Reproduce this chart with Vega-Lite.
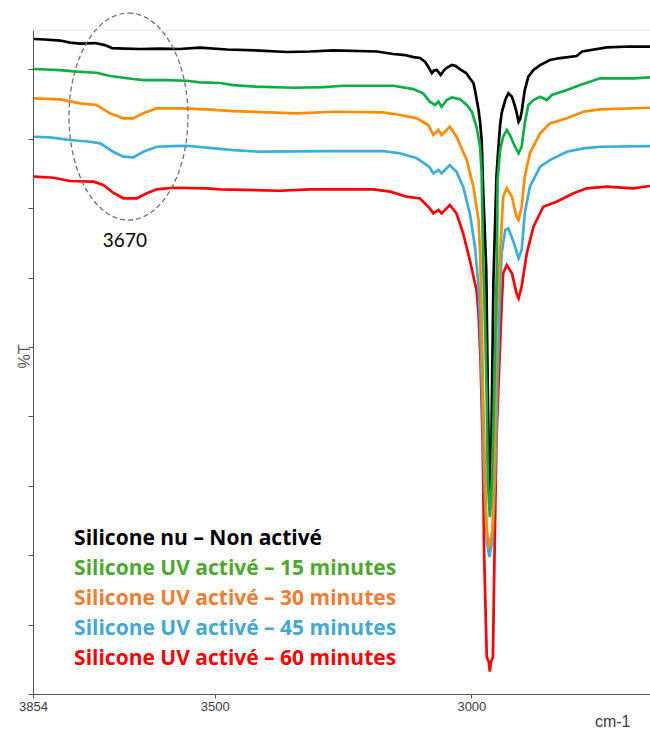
{
  "$schema": "https://vega.github.io/schema/vega-lite/v6.json",
  "width": 617,
  "height": 664,
  "autosize": {"type": "none"},
  "padding": {"left": 33, "top": 30, "right": 0, "bottom": 35},
  "background": "white",
  "config": {"view": {"stroke": null}},
  "datasets": {
    "spectra": [
      {"s":"60 min","wn":3852,"t":74.54},{"s":"60 min","wn":3814,"t":74.39},{"s":"60 min","wn":3782,"t":73.92},{"s":"60 min","wn":3736,"t":73.82},{"s":"60 min","wn":3717,"t":73.34},{"s":"60 min","wn":3698,"t":72.23},{"s":"60 min","wn":3678,"t":71.43},{"s":"60 min","wn":3652,"t":71.43},{"s":"60 min","wn":3632,"t":72.15},{"s":"60 min","wn":3613,"t":72.72},{"s":"60 min","wn":3581,"t":72.95},{"s":"60 min","wn":3516,"t":72.87},{"s":"60 min","wn":3490,"t":72.72},{"s":"60 min","wn":3373,"t":72.52},{"s":"60 min","wn":3314,"t":72.72},{"s":"60 min","wn":3191,"t":72.72},{"s":"60 min","wn":3158,"t":72.38},{"s":"60 min","wn":3126,"t":71.66},{"s":"60 min","wn":3100,"t":71.40},{"s":"60 min","wn":3081,"t":69.98},{"s":"60 min","wn":3074,"t":69.26},{"s":"60 min","wn":3064,"t":69.74},{"s":"60 min","wn":3058,"t":69.26},{"s":"60 min","wn":3042,"t":70.46},{"s":"60 min","wn":3029,"t":69.26},{"s":"60 min","wn":3016,"t":66.38},{"s":"60 min","wn":3003,"t":62.54},{"s":"60 min","wn":2993,"t":59.18},{"s":"60 min","wn":2990,"t":58.21},{"s":"60 min","wn":2986,"t":54.86},{"s":"60 min","wn":2982,"t":47.69},{"s":"60 min","wn":2978,"t":36.17},{"s":"60 min","wn":2975,"t":19.74},{"s":"60 min","wn":2970,"t":5.33},{"s":"60 min","wn":2966,"t":4.61},{"s":"60 min","wn":2964,"t":3.24},{"s":"60 min","wn":2962,"t":4.61},{"s":"60 min","wn":2958,"t":5.33},{"s":"60 min","wn":2955,"t":19.74},{"s":"60 min","wn":2951,"t":37.03},{"s":"60 min","wn":2945,"t":48.56},{"s":"60 min","wn":2941,"t":56.05},{"s":"60 min","wn":2938,"t":60.62},{"s":"60 min","wn":2931,"t":61.81},{"s":"60 min","wn":2921,"t":60.62},{"s":"60 min","wn":2912,"t":57.74},{"s":"60 min","wn":2908,"t":57.02},{"s":"60 min","wn":2902,"t":58.69},{"s":"60 min","wn":2892,"t":63.50},{"s":"60 min","wn":2879,"t":67.33},{"s":"60 min","wn":2860,"t":70.21},{"s":"60 min","wn":2834,"t":70.94},{"s":"60 min","wn":2801,"t":72.15},{"s":"60 min","wn":2775,"t":72.87},{"s":"60 min","wn":2736,"t":73.10},{"s":"60 min","wn":2685,"t":72.87},{"s":"60 min","wn":2652,"t":73.20},

      {"s":"45 min","wn":3852,"t":80.30},{"s":"45 min","wn":3821,"t":80.21},{"s":"45 min","wn":3782,"t":79.83},{"s":"45 min","wn":3743,"t":79.58},{"s":"45 min","wn":3723,"t":79.35},{"s":"45 min","wn":3698,"t":78.14},{"s":"45 min","wn":3678,"t":77.42},{"s":"45 min","wn":3659,"t":77.33},{"s":"45 min","wn":3639,"t":78.14},{"s":"45 min","wn":3613,"t":78.86},{"s":"45 min","wn":3581,"t":78.96},{"s":"45 min","wn":3555,"t":79.00},{"s":"45 min","wn":3516,"t":78.72},{"s":"45 min","wn":3464,"t":78.38},{"s":"45 min","wn":3412,"t":78.14},{"s":"45 min","wn":3282,"t":78.24},{"s":"45 min","wn":3172,"t":78.24},{"s":"45 min","wn":3139,"t":77.91},{"s":"45 min","wn":3106,"t":77.19},{"s":"45 min","wn":3082,"t":75.94},{"s":"45 min","wn":3074,"t":75.03},{"s":"45 min","wn":3064,"t":75.50},{"s":"45 min","wn":3058,"t":75.03},{"s":"45 min","wn":3042,"t":76.22},{"s":"45 min","wn":3029,"t":75.26},{"s":"45 min","wn":3016,"t":73.10},{"s":"45 min","wn":3003,"t":69.26},{"s":"45 min","wn":2993,"t":64.45},{"s":"45 min","wn":2986,"t":58.69},{"s":"45 min","wn":2983,"t":53.89},{"s":"45 min","wn":2979,"t":42.36},{"s":"45 min","wn":2975,"t":30.84},{"s":"45 min","wn":2970,"t":22.19},{"s":"45 min","wn":2965,"t":19.74},{"s":"45 min","wn":2959,"t":22.19},{"s":"45 min","wn":2954,"t":30.84},{"s":"45 min","wn":2950,"t":42.36},{"s":"45 min","wn":2946,"t":53.89},{"s":"45 min","wn":2941,"t":63.54},{"s":"45 min","wn":2934,"t":66.86},{"s":"45 min","wn":2928,"t":67.10},{"s":"45 min","wn":2918,"t":65.17},{"s":"45 min","wn":2908,"t":62.78},{"s":"45 min","wn":2902,"t":63.98},{"s":"45 min","wn":2896,"t":69.26},{"s":"45 min","wn":2886,"t":73.10},{"s":"45 min","wn":2866,"t":75.98},{"s":"45 min","wn":2847,"t":76.94},{"s":"45 min","wn":2814,"t":78.14},{"s":"45 min","wn":2782,"t":78.63},{"s":"45 min","wn":2749,"t":78.86},{"s":"45 min","wn":2652,"t":78.96},

      {"s":"30 min","wn":3852,"t":85.83},{"s":"30 min","wn":3801,"t":85.69},{"s":"30 min","wn":3762,"t":85.11},{"s":"30 min","wn":3730,"t":84.87},{"s":"30 min","wn":3704,"t":83.67},{"s":"30 min","wn":3678,"t":82.95},{"s":"30 min","wn":3659,"t":82.95},{"s":"30 min","wn":3639,"t":83.67},{"s":"30 min","wn":3613,"t":84.39},{"s":"30 min","wn":3568,"t":84.39},{"s":"30 min","wn":3516,"t":84.25},{"s":"30 min","wn":3464,"t":84.00},{"s":"30 min","wn":3340,"t":83.67},{"s":"30 min","wn":3269,"t":83.90},{"s":"30 min","wn":3172,"t":83.82},{"s":"30 min","wn":3139,"t":83.43},{"s":"30 min","wn":3106,"t":82.95},{"s":"30 min","wn":3084,"t":81.99},{"s":"30 min","wn":3074,"t":80.55},{"s":"30 min","wn":3064,"t":81.27},{"s":"30 min","wn":3058,"t":80.55},{"s":"30 min","wn":3042,"t":81.74},{"s":"30 min","wn":3029,"t":80.30},{"s":"30 min","wn":3009,"t":76.94},{"s":"30 min","wn":2996,"t":73.10},{"s":"30 min","wn":2986,"t":68.30},{"s":"30 min","wn":2983,"t":63.54},{"s":"30 min","wn":2980,"t":54.90},{"s":"30 min","wn":2977,"t":42.36},{"s":"30 min","wn":2973,"t":30.84},{"s":"30 min","wn":2970,"t":23.63},{"s":"30 min","wn":2965,"t":21.04},{"s":"30 min","wn":2959,"t":23.63},{"s":"30 min","wn":2956,"t":30.84},{"s":"30 min","wn":2953,"t":42.36},{"s":"30 min","wn":2951,"t":53.89},{"s":"30 min","wn":2944,"t":63.54},{"s":"30 min","wn":2938,"t":71.66},{"s":"30 min","wn":2931,"t":72.87},{"s":"30 min","wn":2921,"t":71.66},{"s":"30 min","wn":2912,"t":68.77},{"s":"30 min","wn":2908,"t":68.30},{"s":"30 min","wn":2902,"t":70.21},{"s":"30 min","wn":2896,"t":74.54},{"s":"30 min","wn":2886,"t":77.91},{"s":"30 min","wn":2866,"t":80.79},{"s":"30 min","wn":2847,"t":82.23},{"s":"30 min","wn":2814,"t":82.95},{"s":"30 min","wn":2782,"t":83.90},{"s":"30 min","wn":2749,"t":84.25},{"s":"30 min","wn":2652,"t":84.48},

      {"s":"0 min","wn":3852,"t":94.38},{"s":"0 min","wn":3831,"t":94.31},{"s":"0 min","wn":3801,"t":94.16},{"s":"0 min","wn":3782,"t":93.87},{"s":"0 min","wn":3762,"t":93.73},{"s":"0 min","wn":3733,"t":93.80},{"s":"0 min","wn":3714,"t":93.51},{"s":"0 min","wn":3700,"t":93.08},{"s":"0 min","wn":3675,"t":93.01},{"s":"0 min","wn":3645,"t":92.94},{"s":"0 min","wn":3607,"t":93.01},{"s":"0 min","wn":3568,"t":92.94},{"s":"0 min","wn":3529,"t":93.15},{"s":"0 min","wn":3476,"t":92.87},{"s":"0 min","wn":3412,"t":92.72},{"s":"0 min","wn":3359,"t":92.51},{"s":"0 min","wn":3314,"t":92.58},{"s":"0 min","wn":3269,"t":92.75},{"s":"0 min","wn":3184,"t":92.58},{"s":"0 min","wn":3152,"t":92.22},{"s":"0 min","wn":3129,"t":92.07},{"s":"0 min","wn":3113,"t":91.78},{"s":"0 min","wn":3100,"t":91.64},{"s":"0 min","wn":3090,"t":91.07},{"s":"0 min","wn":3084,"t":90.39},{"s":"0 min","wn":3077,"t":89.48},{"s":"0 min","wn":3073,"t":89.84},{"s":"0 min","wn":3067,"t":89.91},{"s":"0 min","wn":3060,"t":89.19},{"s":"0 min","wn":3053,"t":89.91},{"s":"0 min","wn":3048,"t":90.24},{"s":"0 min","wn":3038,"t":90.63},{"s":"0 min","wn":3030,"t":90.48},{"s":"0 min","wn":3022,"t":90.01},{"s":"0 min","wn":3010,"t":89.48},{"s":"0 min","wn":3003,"t":88.72},{"s":"0 min","wn":2996,"t":88.04},{"s":"0 min","wn":2993,"t":87.03},{"s":"0 min","wn":2986,"t":84.15},{"s":"0 min","wn":2983,"t":82.42},{"s":"0 min","wn":2980,"t":79.83},{"s":"0 min","wn":2977,"t":72.62},{"s":"0 min","wn":2971,"t":61.09},{"s":"0 min","wn":2968,"t":43.80},{"s":"0 min","wn":2965,"t":29.39},{"s":"0 min","wn":2964,"t":26.51},{"s":"0 min","wn":2962,"t":29.39},{"s":"0 min","wn":2960,"t":42.36},{"s":"0 min","wn":2957,"t":59.65},{"s":"0 min","wn":2951,"t":74.78},{"s":"0 min","wn":2947,"t":79.10},{"s":"0 min","wn":2944,"t":81.99},{"s":"0 min","wn":2941,"t":83.72},{"s":"0 min","wn":2934,"t":85.59},{"s":"0 min","wn":2928,"t":86.56},{"s":"0 min","wn":2921,"t":86.07},{"s":"0 min","wn":2917,"t":85.16},{"s":"0 min","wn":2913,"t":84.15},{"s":"0 min","wn":2908,"t":82.46},{"s":"0 min","wn":2905,"t":82.85},{"s":"0 min","wn":2902,"t":83.90},{"s":"0 min","wn":2896,"t":87.03},{"s":"0 min","wn":2889,"t":88.95},{"s":"0 min","wn":2879,"t":89.91},{"s":"0 min","wn":2866,"t":90.63},{"s":"0 min","wn":2847,"t":91.35},{"s":"0 min","wn":2827,"t":91.64},{"s":"0 min","wn":2795,"t":91.93},{"s":"0 min","wn":2784,"t":92.58},{"s":"0 min","wn":2736,"t":93.18},{"s":"0 min","wn":2691,"t":93.30},{"s":"0 min","wn":2652,"t":93.27},

      {"s":"15 min","wn":3852,"t":90.06},{"s":"15 min","wn":3801,"t":89.91},{"s":"15 min","wn":3769,"t":89.67},{"s":"15 min","wn":3730,"t":89.52},{"s":"15 min","wn":3704,"t":89.05},{"s":"15 min","wn":3659,"t":88.62},{"s":"15 min","wn":3639,"t":88.47},{"s":"15 min","wn":3594,"t":88.47},{"s":"15 min","wn":3555,"t":88.37},{"s":"15 min","wn":3529,"t":88.14},{"s":"15 min","wn":3490,"t":88.04},{"s":"15 min","wn":3464,"t":87.75},{"s":"15 min","wn":3421,"t":87.51},{"s":"15 min","wn":3347,"t":87.36},{"s":"15 min","wn":3288,"t":87.46},{"s":"15 min","wn":3249,"t":87.65},{"s":"15 min","wn":3152,"t":87.65},{"s":"15 min","wn":3113,"t":87.17},{"s":"15 min","wn":3094,"t":86.56},{"s":"15 min","wn":3081,"t":85.35},{"s":"15 min","wn":3071,"t":84.87},{"s":"15 min","wn":3064,"t":85.35},{"s":"15 min","wn":3058,"t":84.62},{"s":"15 min","wn":3048,"t":85.59},{"s":"15 min","wn":3038,"t":85.98},{"s":"15 min","wn":3022,"t":85.69},{"s":"15 min","wn":3009,"t":84.87},{"s":"15 min","wn":2999,"t":83.90},{"s":"15 min","wn":2990,"t":81.74},{"s":"15 min","wn":2983,"t":78.86},{"s":"15 min","wn":2980,"t":75.07},{"s":"15 min","wn":2977,"t":62.54},{"s":"15 min","wn":2973,"t":52.45},{"s":"15 min","wn":2970,"t":42.36},{"s":"15 min","wn":2968,"t":30.84},{"s":"15 min","wn":2964,"t":25.50},{"s":"15 min","wn":2960,"t":30.84},{"s":"15 min","wn":2956,"t":42.36},{"s":"15 min","wn":2953,"t":52.45},{"s":"15 min","wn":2950,"t":62.54},{"s":"15 min","wn":2949,"t":74.06},{"s":"15 min","wn":2944,"t":78.38},{"s":"15 min","wn":2938,"t":80.30},{"s":"15 min","wn":2931,"t":81.27},{"s":"15 min","wn":2925,"t":80.55},{"s":"15 min","wn":2915,"t":78.86},{"s":"15 min","wn":2908,"t":77.91},{"s":"15 min","wn":2902,"t":78.86},{"s":"15 min","wn":2896,"t":82.23},{"s":"15 min","wn":2889,"t":84.87},{"s":"15 min","wn":2879,"t":85.59},{"s":"15 min","wn":2866,"t":86.07},{"s":"15 min","wn":2853,"t":85.59},{"s":"15 min","wn":2843,"t":86.31},{"s":"15 min","wn":2814,"t":87.03},{"s":"15 min","wn":2788,"t":87.75},{"s":"15 min","wn":2749,"t":88.72},{"s":"15 min","wn":2685,"t":88.72},{"s":"15 min","wn":2652,"t":88.86}
    ],
    "legend": [
      {"label":"Silicone nu – Non activé","grp":"0 min","wn":3774,"t":21.47},
      {"label":"Silicone UV activé – 15 minutes","grp":"15 min","wn":3774,"t":17.15},
      {"label":"Silicone UV activé – 30 minutes","grp":"30 min","wn":3774,"t":12.82},
      {"label":"Silicone UV activé – 45 minutes","grp":"45 min","wn":3774,"t":8.50},
      {"label":"Silicone UV activé – 60 minutes","grp":"60 min","wn":3774,"t":4.18}
    ],
    "ellipse": [{"wn":3668,"t":83.21}],
    "notes": [{"wn":3675,"t":64.41,"label":"3670"}]
  },
  "layer": [
    {
      "data": {"values": [{}]},
      "mark": {"type": "rule", "color": "#e6e6e6", "strokeWidth": 1},
      "encoding": {"y": {"datum": 95.68, "type": "quantitative"}}
    },
    {
      "data": {"name": "spectra"},
      "mark": {"type": "line", "strokeWidth": 2.7},
      "encoding": {
        "x": {
          "field": "wn", "type": "quantitative",
          "scale": {"domain": [2652, 3854], "reverse": true, "nice": false, "zero": false},
          "axis": {
            "values": [3854, 3500, 3000], "format": "d", "title": "cm-1", "grid": false,
            "domainColor": "#555555", "domainWidth": 1, "tickColor": "#555555", "tickSize": 4,
            "labelFont": "Liberation Sans", "labelFontSize": 13, "labelColor": "#3c3c48", "labelPadding": 2,
            "labelFlush": false, "labelOverlap": false, "labelBound": false,
            "titleFont": "Liberation Sans", "titleFontSize": 16, "titleFontWeight": "normal", "titleColor": "#3c3c48",
            "titleAnchor": "end", "titleAlign": "right", "titleBaseline": "alphabetic", "titleX": 597, "titleY": 32
          }
        },
        "y": {
          "field": "t", "type": "quantitative",
          "scale": {"domain": [0, 95.68], "nice": false, "zero": false},
          "axis": {
            "values": [0, 10, 20, 30, 40, 50, 60, 70, 80, 90], "labels": false, "grid": false, "title": "%T",
            "domainColor": "#555555", "domainWidth": 1, "tickColor": "#555555", "tickSize": 5,
            "titleFont": "Liberation Sans", "titleFontSize": 16, "titleFontWeight": "normal", "titleColor": "#555555",
            "titleAngle": 270, "titleAlign": "center", "titleBaseline": "bottom", "titleX": -1, "titleY": 326
          }
        },
        "color": {
          "field": "s", "type": "nominal",
          "scale": {"domain": ["0 min", "15 min", "30 min", "45 min", "60 min"], "range": ["#000000", "#0DAE45", "#FF8C00", "#3AAED8", "#FF0000"]},
          "legend": null
        }
      }
    },
    {
      "data": {"name": "ellipse"},
      "mark": {"type": "point", "shape": "M 0 -1 C 0.3176 -1 0.575 -0.5523 0.575 0 C 0.575 0.5523 0.3176 1 0 1 C -0.3176 1 -0.575 0.5523 -0.575 0 C -0.575 -0.5523 -0.3176 -1 0 -1 Z", "size": 42849, "filled": false, "stroke": "#707070", "strokeWidth": 1.3, "strokeDash": [5, 3], "opacity": 1},
      "encoding": {
        "x": {"field": "wn", "type": "quantitative"},
        "y": {"field": "t", "type": "quantitative"}
      }
    },
    {
      "data": {"name": "notes"},
      "mark": {"type": "text", "font": "Lato", "fontSize": 19, "align": "center", "baseline": "alphabetic", "color": "#000000"},
      "encoding": {
        "x": {"field": "wn", "type": "quantitative"},
        "y": {"field": "t", "type": "quantitative"},
        "text": {"field": "label"}
      }
    },
    {
      "data": {"name": "legend"},
      "mark": {"type": "text", "font": "Open Sans", "fontWeight": "bold", "fontSize": 21, "align": "left", "baseline": "alphabetic"},
      "encoding": {
        "x": {"field": "wn", "type": "quantitative"},
        "y": {"field": "t", "type": "quantitative"},
        "text": {"field": "label"},
        "color": {
          "field": "grp", "type": "nominal",
          "scale": {"domain": ["0 min", "15 min", "30 min", "45 min", "60 min"], "range": ["#000000", "#4EA82F", "#EF7D32", "#45A8D0", "#FF0000"]},
          "legend": null
        }
      }
    }
  ],
  "resolve": {"scale": {"color": "independent"}}
}
